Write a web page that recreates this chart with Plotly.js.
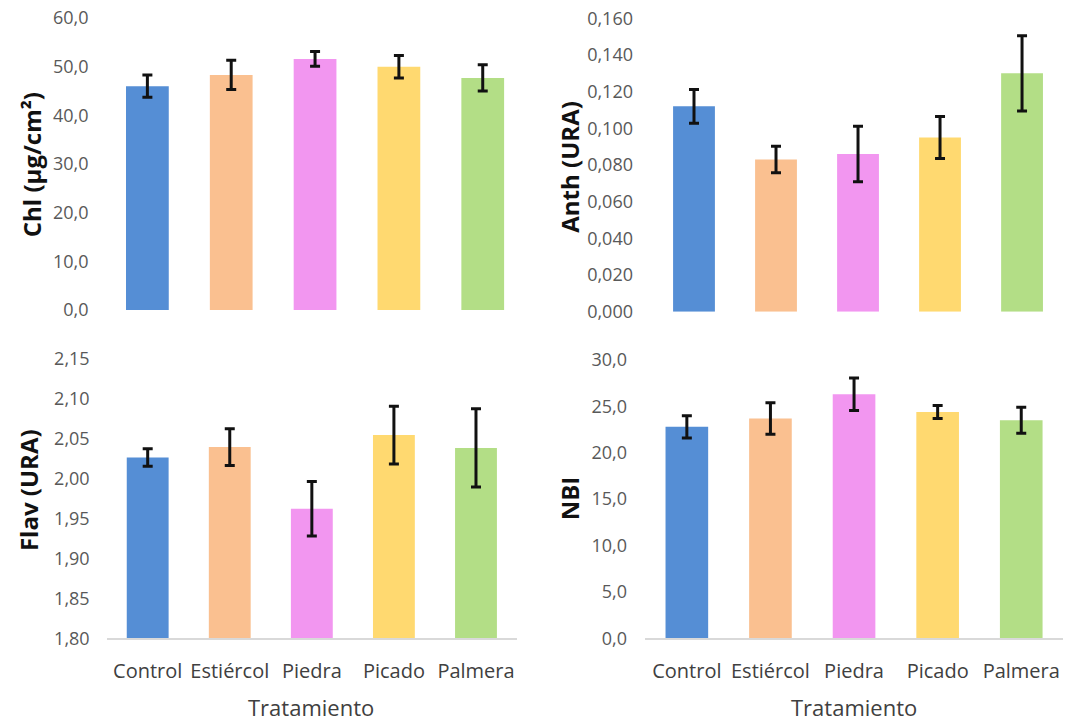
<!DOCTYPE html>
<html>
<head>
<meta charset="utf-8">
<script src="https://cdn.plot.ly/plotly-3.0.1.min.js"></script>
<style>
  html, body { margin: 0; padding: 0; background: #ffffff; }
  #chart { width: 1074px; height: 724px; }
</style>
</head>
<body>
<div id="chart"></div>
<script>
// Treatments shown on every panel
const tratamientos = ['Control', 'Estiércol', 'Piedra', 'Picado', 'Palmera'];
const colores = ['#558ED5', '#FAC090', '#F296F0', '#FFD970', '#B3DE86'];

// Chlorophyll (µg/cm²): mean and standard error
const chl = [46.0, 48.3, 51.6, 50.0, 47.7];
const chlErr = [2.3, 3.0, 1.5, 2.3, 2.7];

// Anthocyanins (URA)
const anth = [0.112, 0.083, 0.086, 0.095, 0.130];
const anthErr = [0.0092, 0.0072, 0.0151, 0.0115, 0.0205];

// Flavonols (URA)
const flav = [2.026, 2.039, 1.962, 2.054, 2.038];
const flavErr = [0.011, 0.023, 0.034, 0.036, 0.049];

// Nitrogen balance index
const nbi = [22.8, 23.7, 26.3, 24.4, 23.5];
const nbiErr = [1.2, 1.7, 1.75, 0.7, 1.4];

const FONT = 'Open Sans, Noto Sans, sans-serif';
const TICK = '#595959';

function barTrace(values, errs, xa, ya) {
  return {
    type: 'bar',
    x: tratamientos,
    y: values,
    xaxis: xa,
    yaxis: ya,
    marker: { color: colores, line: { width: 0 } },
    error_y: { type: 'data', array: errs, visible: true, color: '#111111', thickness: 3, width: 5 },
    hoverinfo: 'x+y',
    showlegend: false
  };
}

const data = [
  barTrace(chl, chlErr, 'x', 'y'),
  barTrace(anth, anthErr, 'x2', 'y2'),
  barTrace(flav, flavErr, 'x3', 'y3'),
  barTrace(nbi, nbiErr, 'x4', 'y4')
];

function yAxis(domain, anchor, range, dtick, fmt, standoff) {
  return {
    domain: domain,
    anchor: anchor,
    range: range,
    dtick: dtick,
    tick0: range[0],
    tickformat: fmt,
    showgrid: false,
    zeroline: false,
    showline: false,
    ticks: '',
    ticklabelstandoff: standoff,
    tickfont: { family: FONT, size: 18, color: TICK },
    fixedrange: true
  };
}

function xAxis(domain, anchor, bottom) {
  return {
    domain: domain,
    anchor: anchor,
    type: 'category',
    showgrid: false,
    zeroline: false,
    showline: bottom,
    linecolor: '#D9D9D9',
    linewidth: 2,
    ticks: '',
    showticklabels: bottom,
    ticklabelstandoff: 14,
    tickfont: { family: FONT, size: 20, color: '#404040' },
    fixedrange: true
  };
}

function yTitle(text, x, y) {
  return {
    text: text, xref: 'paper', yref: 'paper', x: x, y: y,
    xanchor: 'center', yanchor: 'middle', textangle: -90, showarrow: false,
    font: { family: FONT, size: 24, color: '#111111', weight: 'bold' }
  };
}

function xTitle(x) {
  return {
    text: 'Tratamiento', xref: 'paper', yref: 'paper', x: x, y: 0.024,
    xanchor: 'center', yanchor: 'middle', showarrow: false,
    font: { family: FONT, size: 22, color: '#404040' }
  };
}

const layout = {
  width: 1074,
  height: 724,
  margin: { l: 0, r: 0, t: 0, b: 0 },
  paper_bgcolor: '#ffffff',
  plot_bgcolor: 'rgba(0,0,0,0)',
  separators: ',.',
  bargap: 0.49,
  showlegend: false,

  xaxis: xAxis([0.0982, 0.4885], 'y', false),
  yaxis: yAxis([0.5718, 0.9751], 'x', [0, 60], 10, '.1f', 16),

  xaxis2: xAxis([0.6080, 0.9898], 'y2', false),
  yaxis2: yAxis([0.5695, 0.9747], 'x2', [0, 0.16], 0.02, '.3f', 19),

  xaxis3: xAxis([0.0993, 0.4814], 'y3', true),
  yaxis3: yAxis([0.1184, 0.5051], 'x3', [1.80, 2.15], 0.05, '.2f', 16),

  xaxis4: xAxis([0.6006, 0.9898], 'y4', true),
  yaxis4: yAxis([0.1184, 0.5028], 'x4', [0, 30], 5, '.1f', 17),

  annotations: [
    yTitle('Chl (µg/cm²)', 0.029, 0.772),
    yTitle('Anth (URA)', 0.530, 0.770),
    yTitle('Flav (URA)', 0.026, 0.323),
    yTitle('NBI', 0.530, 0.312),
    xTitle(0.290),
    xTitle(0.795)
  ]
};

Plotly.newPlot('chart', data, layout, { displayModeBar: false, staticPlot: true });
</script>
</body>
</html>
